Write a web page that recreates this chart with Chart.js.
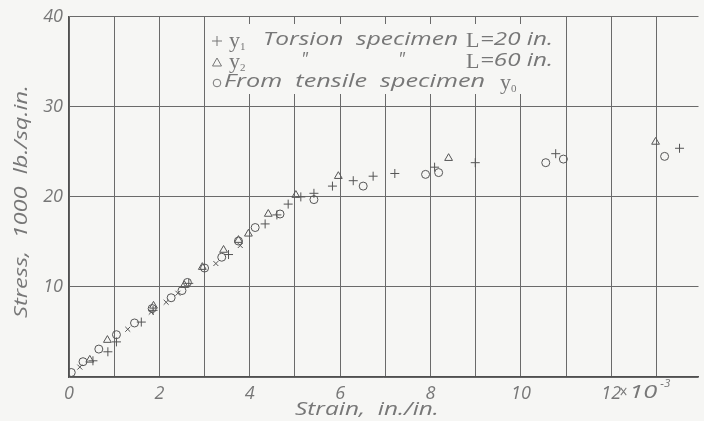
<!DOCTYPE html>
<html>
<head>
<meta charset="utf-8">
<script src="https://cdn.jsdelivr.net/npm/chart.js@4/dist/chart.umd.min.js"></script>
<style>
  html, body { margin: 0; padding: 0; background: #f6f6f4; }
  #wrap { width: 704px; height: 421px; }
</style>
</head>
<body>
<div id="wrap"><canvas id="strain-stress"></canvas></div>
<script>
// strain in units of 10^-3 in./in., stress in 1000 lb./sq.in.
var torsionL20Strain = [0.53, 0.86, 1.05, 1.60, 1.86, 2.65, 3.53, 4.34, 4.60, 4.85, 5.13, 5.42, 5.83, 6.29, 6.73, 7.21, 8.09, 8.99, 10.77, 13.51];
var torsionL20Stress = [1.8, 2.8, 3.9, 6.1, 7.4, 10.4, 13.6, 17.0, 18.0, 19.2, 20.0, 20.4, 21.2, 21.8, 22.3, 22.6, 23.3, 23.8, 24.8, 25.4];

// readings of the same specimen marked with a slanted cross
var torsionL20bStrain = [0.24, 1.30, 1.82, 2.15, 2.41, 3.25, 3.79];
var torsionL20bStress = [1.1, 5.3, 7.2, 8.3, 9.3, 12.6, 14.6];

var torsionL60Strain = [0.46, 0.85, 1.87, 2.55, 2.95, 3.42, 3.75, 3.97, 4.41, 5.02, 5.96, 8.40, 12.98];
var torsionL60Stress = [1.9, 4.1, 7.9, 10.2, 12.2, 14.1, 15.2, 15.9, 18.1, 20.2, 22.3, 24.3, 26.1];

var tensileStrain = [0.05, 0.31, 0.66, 1.05, 1.45, 1.84, 2.26, 2.50, 2.62, 3.00, 3.38, 3.75, 4.12, 4.67, 5.42, 6.51, 7.89, 8.18, 10.55, 10.94, 13.18];
var tensileStress = [0.5, 1.7, 3.1, 4.7, 6.0, 7.6, 8.8, 9.6, 10.5, 12.1, 13.3, 15.1, 16.6, 18.1, 19.7, 21.2, 22.5, 22.7, 23.8, 24.2, 24.5];

var xTicks = [0, 1, 2, 3, 4, 5, 6, 7, 8, 9, 10, 11, 12, 13];
var yTicks = [0, 10, 20, 30, 40];

var INK = '#555555';
var TEXT = '#777777';
var BG = '#f6f6f4';
var FONT = '"Open Sans", "DejaVu Sans", sans-serif';
var SANS = 'italic 18px ' + FONT;
var SERIF = '22px "Liberation Serif", "DejaVu Serif", serif';
var SUB = '11px "Liberation Serif", "DejaVu Serif", serif';

function pairs(xs, ys) {
  return xs.map(function(x, i) { return { x: x, y: ys[i] }; });
}

function series(label, xs, ys, style, radius) {
  return {
    label: label,
    data: pairs(xs, ys),
    pointStyle: style,
    pointRadius: radius,
    pointBorderColor: INK,
    pointBackgroundColor: 'rgba(0,0,0,0)',
    pointBorderWidth: 1,
    showLine: false
  };
}

// stretch a run of lettering to a given width, left aligned at x
function fitText(ctx, text, x, y, w) {
  var m = ctx.measureText(text).width;
  ctx.save();
  ctx.translate(x, y);
  ctx.scale(w / m, 1);
  ctx.fillText(text, 0, 0);
  ctx.restore();
}

// lettering: legend block, axis titles and the exponent on the last strain label
var lettering = {
  id: 'lettering',
  afterDraw: function(chart) {
    var ctx = chart.ctx;
    ctx.save();

    // legend block blanks out the grid behind it
    ctx.fillStyle = BG;
    ctx.fillRect(208, 24, 350, 70);

    ctx.strokeStyle = TEXT;
    ctx.fillStyle = TEXT;
    ctx.lineWidth = 1;
    ctx.textBaseline = 'middle';
    ctx.textAlign = 'left';

    // + symbol
    ctx.beginPath();
    ctx.moveTo(212, 41); ctx.lineTo(222, 41);
    ctx.moveTo(217, 36); ctx.lineTo(217, 46);
    ctx.stroke();
    // triangle symbol
    ctx.beginPath();
    ctx.moveTo(217, 58); ctx.lineTo(221.5, 66); ctx.lineTo(212.5, 66); ctx.closePath();
    ctx.stroke();
    // circle symbol
    ctx.beginPath();
    ctx.arc(217, 83, 3.8, 0, Math.PI * 2);
    ctx.stroke();

    ctx.font = SERIF; ctx.fillText('y', 229, 41);
    ctx.font = SUB; ctx.fillText('1', 240, 47);
    ctx.font = SANS; fitText(ctx, 'Torsion  specimen', 263, 40, 195);
    ctx.font = SERIF; ctx.fillText('L', 466, 41);
    ctx.font = SANS; fitText(ctx, '=20 in.', 480, 40, 73);

    ctx.font = SERIF; ctx.fillText('y', 229, 62);
    ctx.font = SUB; ctx.fillText('2', 240, 68);
    ctx.font = SANS; ctx.fillText('"', 301, 60);
    ctx.fillText('"', 398, 60);
    ctx.font = SERIF; ctx.fillText('L', 466, 62);
    ctx.font = SANS; fitText(ctx, '=60 in.', 480, 61, 73);

    ctx.font = SANS; fitText(ctx, 'From  tensile  specimen', 224, 82, 261);
    ctx.font = SERIF; ctx.fillText('y', 500, 83);
    ctx.font = SUB; ctx.fillText('0', 511, 89);

    // exponent after the 12
    var x12 = chart.scales.x.getPixelForValue(12);
    ctx.font = SANS;
    fitText(ctx, '\u00d7', x12 + 8, 393, 8);
    fitText(ctx, '10', x12 + 18, 393, 28);
    ctx.font = 'italic 11px ' + FONT;
    fitText(ctx, '-3', x12 + 49, 384, 10);

    // axis titles
    ctx.font = SANS;
    fitText(ctx, 'Strain,  in./in.', 295, 410, 144);
    ctx.translate(22, 318);
    ctx.rotate(-Math.PI / 2);
    fitText(ctx, 'Stress,  1000  lb./sq.in.', 0, 0, 233);

    ctx.restore();
  }
};

var ctx = document.getElementById('strain-stress');
var chart = new Chart(ctx, {
  type: 'scatter',
  data: {
    datasets: [
      series('y1 Torsion specimen L=20 in.', torsionL20Strain, torsionL20Stress, 'cross', 4.5),
      series('y1 Torsion specimen L=20 in. (x)', torsionL20bStrain, torsionL20bStress, 'crossRot', 3.5),
      series('y2 Torsion specimen L=60 in.', torsionL60Strain, torsionL60Stress, 'triangle', 4.5),
      series('From tensile specimen y0', tensileStrain, tensileStress, 'circle', 4)
    ]
  },
  options: {
    responsive: true,
    maintainAspectRatio: false,
    animation: false,
    layout: { padding: { top: 15, right: 0, left: 0, bottom: 0 } },
    plugins: {
      legend: { display: false },
      tooltip: { enabled: false }
    },
    scales: {
      x: {
        type: 'linear',
        min: 0,
        max: 13.93,
        afterBuildTicks: function(axis) {
          axis.ticks = xTicks.map(function(v) { return { value: v }; });
        },
        afterFit: function(axis) { axis.height = 44; },
        grid: { color: '#6a6a6a', lineWidth: 1, drawTicks: false },
        border: { color: '#505050', width: 1.3 },
        ticks: {
          padding: 6,
          color: TEXT,
          font: { family: FONT, size: 18, style: 'italic' },
          maxRotation: 0,
          autoSkip: false,
          callback: function(v) { return v % 2 === 0 ? String(v) : ''; }
        }
      },
      y: {
        type: 'linear',
        min: 0,
        max: 40,
        afterBuildTicks: function(axis) {
          axis.ticks = yTicks.map(function(v) { return { value: v }; });
        },
        afterFit: function(axis) { axis.width = 69; },
        grid: { color: '#6a6a6a', lineWidth: 1, drawTicks: false },
        border: { color: '#505050', width: 1.3 },
        ticks: {
          padding: 6,
          color: TEXT,
          font: { family: FONT, size: 18, style: 'italic' },
          callback: function(v) { return v === 0 ? '' : String(v); }
        }
      }
    }
  },
  plugins: [lettering]
});
</script>
</body>
</html>
